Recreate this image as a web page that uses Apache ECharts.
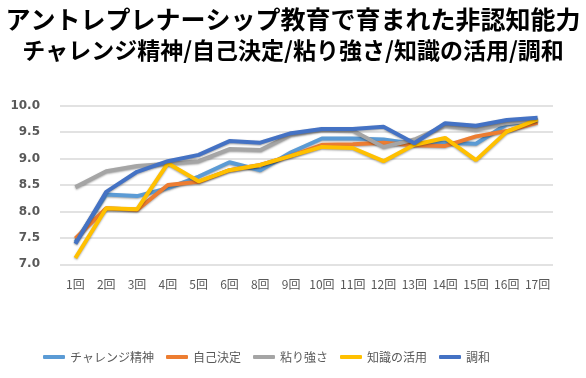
<!DOCTYPE html>
<html><head><meta charset="utf-8">
<script src="https://cdn.jsdelivr.net/npm/echarts@6/dist/echarts.min.js"></script>
<style>html,body{margin:0;padding:0;background:#fff}#c{width:586px;height:378px}</style>
</head><body><div id="c"></div>
<script>
const categories = ['1回','2回','3回','4回','5回','6回','8回','9回','10回','11回','12回','13回','14回','15回','16回','17回'];
const seriesNames = ['チャレンジ精神','自己決定','粘り強さ','知識の活用','調和'];
const challenge = [7.42, 8.32, 8.29, 8.44, 8.66, 8.93, 8.78, 9.12, 9.38, 9.38, 9.36, 9.28, 9.30, 9.28, 9.65, 9.73];
const selfDecision = [7.49, 8.06, 8.03, 8.50, 8.56, 8.78, 8.88, 9.05, 9.26, 9.27, 9.30, 9.25, 9.24, 9.42, 9.52, 9.68];
const persistence = [8.46, 8.76, 8.86, 8.90, 8.95, 9.18, 9.16, 9.45, 9.55, 9.53, 9.22, 9.36, 9.62, 9.55, 9.67, 9.73];
const knowledge = [7.12, 8.06, 8.04, 8.91, 8.57, 8.78, 8.88, 9.05, 9.22, 9.20, 8.95, 9.26, 9.39, 8.97, 9.51, 9.74];
const harmony = [7.39, 8.37, 8.75, 8.95, 9.07, 9.33, 9.30, 9.48, 9.56, 9.56, 9.60, 9.29, 9.67, 9.62, 9.73, 9.77];
const colors = ['#5B9BD5','#ED7D31','#A5A5A5','#FFC000','#4472C4'];
const allData = [challenge, selfDecision, persistence, knowledge, harmony];

const chart = echarts.init(document.getElementById('c'));
chart.setOption({
  animation: false,
  color: colors,
  title: [
    {text: 'アントレプレナーシップ教育で育まれた非認知能力', left: 'center', top: 2,
     textStyle: {fontFamily: 'Noto Sans CJK JP', fontSize: 25, fontWeight: 'bold', color: '#000'}},
    {text: 'チャレンジ精神/自己決定/粘り強さ/知識の活用/調和', left: 'center', top: 34,
     textStyle: {fontFamily: 'Noto Sans CJK JP', fontSize: 23, fontWeight: 'bold', color: '#000'}}
  ],
  legend: {
    left: 38, top: 346, icon: 'roundRect', itemWidth: 22, itemHeight: 4, itemGap: 12,
    textStyle: {fontFamily: 'Noto Sans CJK JP', fontSize: 12, color: '#595959'},
    data: seriesNames
  },
  grid: {left: 60, right: 33, top: 105.7, bottom: 113.7},
  xAxis: {
    type: 'category', data: categories, boundaryGap: true,
    axisLine: {show: false}, axisTick: {show: false},
    axisLabel: {color: '#595959', fontSize: 12, fontFamily: 'Noto Sans CJK JP', margin: 14, interval: 0}
  },
  yAxis: {
    type: 'value', min: 7.0, max: 10.0, interval: 0.5,
    axisLine: {show: false}, axisTick: {show: false},
    splitLine: {lineStyle: {color: '#d9d9d9', width: 1.5}},
    axisLabel: {color: '#595959', fontSize: 12, fontWeight: 'bold', fontFamily: 'DejaVu Sans', margin: 20,
      formatter: v => v.toFixed(1)}
  },
  series: seriesNames.map((n, i) => ({
    name: n, type: 'line', data: allData[i], symbol: 'none',
    lineStyle: {width: 4, color: colors[i], shadowColor: 'rgba(0,0,0,0.35)', shadowBlur: 2, shadowOffsetY: 1},
    itemStyle: {color: colors[i]}
  }))
});
</script></body></html>
